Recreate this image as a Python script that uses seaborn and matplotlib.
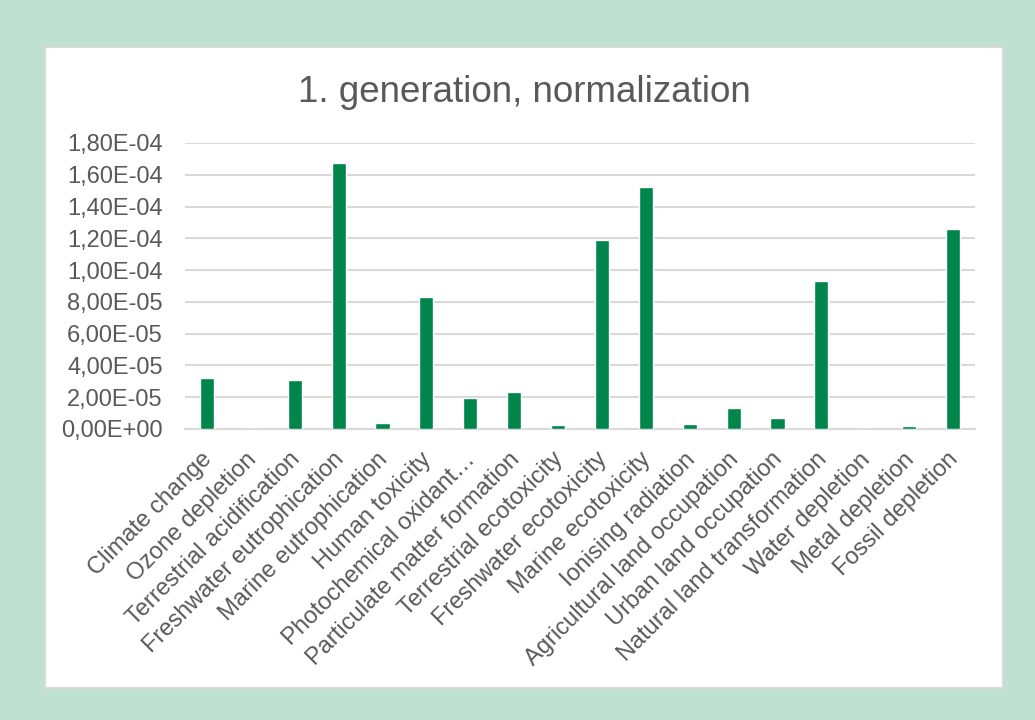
import matplotlib
matplotlib.use("Agg")
import matplotlib.pyplot as plt
from matplotlib.patches import Rectangle
from matplotlib.ticker import FuncFormatter
from matplotlib.transforms import ScaledTranslation
import seaborn as sns
import pandas as pd

categories = [
    "Climate change", "Ozone depletion", "Terrestrial acidification",
    "Freshwater eutrophication", "Marine eutrophication", "Human toxicity",
    "Photochemical oxidant\u2026", "Particulate matter formation",
    "Terrestrial ecotoxicity", "Freshwater ecotoxicity", "Marine ecotoxicity",
    "Ionising radiation", "Agricultural land occupation", "Urban land occupation",
    "Natural land transformation", "Water depletion", "Metal depletion",
    "Fossil depletion",
]
values = [
    3.19e-5, 1.0e-7, 3.08e-5, 1.672e-4, 3.6e-6, 8.31e-5, 1.97e-5, 2.33e-5,
    2.5e-6, 1.19e-4, 1.521e-4, 3.3e-6, 1.30e-5, 6.9e-6, 9.31e-5, 0.0,
    1.9e-6, 1.259e-4,
]
title = "1. generation, normalization"
y_ticks = [0, 2e-5, 4e-5, 6e-5, 8e-5, 1e-4, 1.2e-4, 1.4e-4, 1.6e-4, 1.8e-4]

sns.set_theme(style="white")
plt.rcParams["font.family"] = ["Liberation Sans", "DejaVu Sans"]

W, H = 1035, 720
fig = plt.figure(figsize=(W / 100, H / 100), dpi=100)
fig.patch.set_facecolor("#BFE1D1")

# white chart panel with thin grey border
fig.add_artist(Rectangle((45 / W, 1 - 688 / H), (1003 - 45) / W, (688 - 47) / H,
                         transform=fig.transFigure, facecolor="white",
                         edgecolor="#D9D9D9", linewidth=1.5, zorder=0))

ax = fig.add_axes([185 / W, 1 - 429 / H, (975 - 185) / W, (429 - 143) / H])
ax.set_facecolor("none")

df = pd.DataFrame({"category": categories, "value": values})
sns.barplot(data=df, x="category", y="value", color="#00864B", width=0.32,
            saturation=1, ax=ax, zorder=3)

ax.set_ylim(0, 1.8e-4)
ax.set_xlim(-0.5, len(categories) - 0.5)
ax.set_yticks(y_ticks)
ax.yaxis.set_major_formatter(FuncFormatter(lambda v, _: f"{v:.2E}".replace(".", ",")))
ax.grid(axis="y", color="#D9D9D9", linewidth=1.5, zorder=0)
ax.set_axisbelow(True)
for side in ["left", "right", "top"]:
    ax.spines[side].set_visible(False)
ax.spines["bottom"].set_color("#D9D9D9")
ax.spines["bottom"].set_linewidth(1.5)

ax.set_xlabel("")
ax.set_ylabel("")
ax.tick_params(axis="y", length=0, pad=16, labelsize=17, labelcolor="#595959")
ax.tick_params(axis="x", length=0, pad=6, labelsize=17, labelcolor="#595959")
shift = ScaledTranslation(-6 / 100, -11 / 100, fig.dpi_scale_trans)
for lbl in ax.get_xticklabels():
    lbl.set_rotation(45)
    lbl.set_ha("right")
    lbl.set_rotation_mode("anchor")
    lbl.set_transform(lbl.get_transform() + shift)

fig.text(524 / W, 1 - 93 / H, title, ha="center", va="center",
         fontsize=26.5, color="#595959")

fig.savefig("out.png", dpi=100, facecolor=fig.get_facecolor())
